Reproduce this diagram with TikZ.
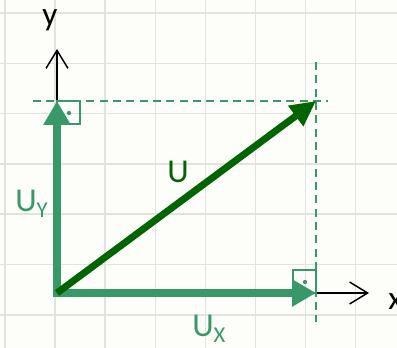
\documentclass[tikz,border=0pt]{standalone}
\usepackage{fontspec}
\setmainfont{Carlito}
\usetikzlibrary{arrows.meta}
\definecolor{compgreen}{RGB}{56,152,104}
\definecolor{vecgreen}{RGB}{0,100,0}
\definecolor{paper}{RGB}{253,254,250}
\definecolor{gridgray}{RGB}{226,226,222}
\newcommand{\subidx}[1]{\raisebox{-4.5pt}{\fontsize{17}{17}\selectfont #1}}
\tikzset{
  axis/.style={line width=1.1pt,-{Straight Barb[length=13.5pt,width=16.5pt,line width=1.1pt]}},
  comp/.style={compgreen,line width=6pt,line cap=rect,-{Triangle[length=18pt,width=19.5pt]}},
  vec/.style={vecgreen,line width=5.2pt,-{Triangle[length=19pt,width=18pt]}},
  helper/.style={compgreen,line width=1.5pt,dash pattern=on 6pt off 4pt},
  rightang/.style={compgreen,line width=1.1pt},
  lbl/.style={font=\fontsize{25}{30}\selectfont,inner sep=0pt}
}
\begin{document}
\begin{tikzpicture}[x=0.75pt,y=-0.75pt]
\fill[paper] (0,0) rectangle (397,348);
\useasboundingbox (0,0) rectangle (397,348);
% grid
\foreach \i in {0,...,7}
  \draw[gridgray,line width=1.1pt] ({5+50.1*\i},0) -- ({5+50.1*\i},348);
\foreach \j in {0,...,6}
  \draw[gridgray,line width=1.1pt] (0,{13+50.3*\j}) -- (397,{13+50.3*\j});
% points
\coordinate (O) at (57,293);
\coordinate (Ux) at (316,293);
\coordinate (Uy) at (57,101);
\coordinate (U) at (316,101);
\coordinate (xend) at (369,293);
\coordinate (yend) at (57,49);
\coordinate (hl) at (33,101);
\coordinate (hr) at (328,101);
\coordinate (vt) at (316,62);
\coordinate (vb) at (316,322);
% axes
\draw[axis] (O) -- (xend);
\draw[axis] (O) -- (yend);
\node[lbl,anchor=base] (ylab) at (50,26) {y};
\node[lbl,anchor=base west] (xlab) at (388,310) {x};
% dashed guides
\draw[helper] (hl) -- (hr);
\draw[helper] (vt) -- (vb);
% right angles
\draw[rightang] (Uy) rectangle +(23,23);
\fill[compgreen] (69,113) circle (1.6pt);
\draw[rightang] (Ux) rectangle +(-23,-23);
\fill[compgreen] (305,282) circle (1.6pt);
% components and vector
\draw[comp] (O) -- (Ux);
\draw[comp] (O) -- (Uy);
\draw[vec] (O) -- (U);
\node[lbl,text=vecgreen] (Ulab) at (178,172) {U};
\node[lbl,text=compgreen,anchor=base west] (Uylab) at (15,212) {U\subidx{Y}};
\node[lbl,text=compgreen,anchor=base west] (Uxlab) at (192,337) {U\subidx{X}};
\end{tikzpicture}
\end{document}
